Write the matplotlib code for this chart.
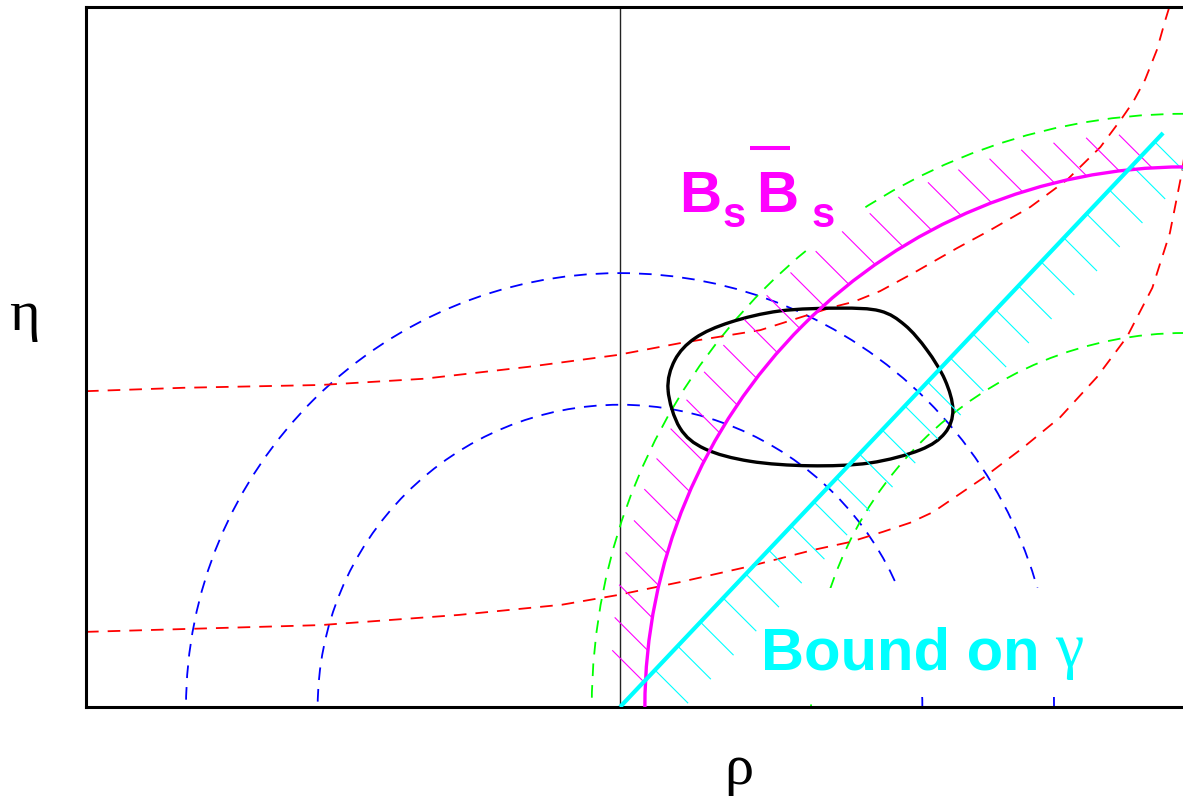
import numpy as np
import matplotlib.pyplot as plt
from matplotlib.patches import Arc, Rectangle, PathPatch
from matplotlib.path import Path
from matplotlib.collections import LineCollection

# rho-eta plane; (1, 0) is the right-hand apex of the triangle
RHO_LIM = (-0.945, 0.998)
ETA_LIM = (0.0, 1.239)

# |Vub/Vcb| band: circles around the origin
VUB_RADII = [0.535, 0.768]

# Bd mixing band (dashed) and Bs mixing bound (solid), circles around (1, 0)
MIX_CENTRE = (1.0, 0.0)
BD_RADII = [0.662, 1.050]
BS_RADIUS = 0.956

# epsilon_K band, lower and upper edges
EPSK_LO_RHO = [-0.945, -0.529, -0.285, -0.103, -0.005, 0.106, 0.225, 0.342,
               0.407, 0.465, 0.513, 0.554, 0.642, 0.712, 0.779, 0.844,
               0.897, 0.942, 0.973, 0.995, 1.005]
EPSK_LO_ETA = [0.133, 0.145, 0.163, 0.181, 0.198, 0.221, 0.248, 0.278,
               0.292, 0.310, 0.326, 0.345, 0.405, 0.458, 0.513, 0.584,
               0.655, 0.742, 0.839, 0.950, 1.021]
EPSK_HI_RHO = [-0.945, -0.773, -0.529, -0.347, -0.163, -0.005, 0.106, 0.248,
               0.377, 0.413, 0.460, 0.519, 0.596, 0.655, 0.726, 0.791,
               0.850, 0.888, 0.908, 0.929, 0.950, 0.965, 0.973]
EPSK_HI_ETA = [0.559, 0.565, 0.570, 0.581, 0.602, 0.623, 0.644, 0.667,
               0.708, 0.717, 0.736, 0.768, 0.812, 0.844, 0.885, 0.933,
               0.991, 1.042, 1.071, 1.110, 1.163, 1.216, 1.242]

# bound on gamma: ray from the origin
GAMMA_END = (0.961, 1.016)

# allowed region (closed contour)
FIT_RHO = [0.085, 0.097, 0.133, 0.195, 0.283, 0.389, 0.460, 0.504, 0.543,
           0.575, 0.589, 0.575, 0.531, 0.442, 0.336, 0.230, 0.150, 0.106]
FIT_ETA = [0.561, 0.614, 0.653, 0.681, 0.701, 0.706, 0.701, 0.676, 0.632,
           0.579, 0.526, 0.485, 0.455, 0.432, 0.427, 0.435, 0.457, 0.494]

MAGENTA = "#ff00ff"
CYAN = "#00ffff"
DASH = (0, (7, 5))


def closed_curve(xs, ys):
    """Smooth closed Bezier path through the given points."""
    pts = np.column_stack([xs, ys])
    n = len(pts)
    verts, codes = [pts[0]], [Path.MOVETO]
    for i in range(n):
        p0, p1, p2, p3 = pts[i - 1], pts[i], pts[(i + 1) % n], pts[(i + 2) % n]
        verts += [p1 + (p2 - p0) / 6, p2 - (p3 - p1) / 6, p2]
        codes += [Path.CURVE4] * 3
    return Path(verts, codes)


def ticks(x, y, direction, length):
    d = np.asarray(direction, float)
    d = d / np.hypot(*d) * length
    return [[(a, b), (a + d[0], b + d[1])] for a, b in zip(x, y)]


fig = plt.figure(figsize=(11.83, 7.99), dpi=100)
ax = fig.add_axes([86 / 1183, 92 / 799, 1098 / 1183, 700 / 799])
ax.set_xlim(*RHO_LIM)
ax.set_ylim(*ETA_LIM)
ax.set_xticks([])
ax.set_yticks([])
for s in ax.spines.values():
    s.set_linewidth(2.2)
    s.set_color("black")

ax.axvline(0, color="#222222", lw=1.0, zorder=1)

# dashed constraint curves
for r in VUB_RADII:
    ax.add_patch(Arc((0, 0), 2 * r, 2 * r, theta1=0, theta2=180,
                     color="#0000ff", lw=1.3, ls=DASH, zorder=1.5))
for r in BD_RADII:
    ax.add_patch(Arc(MIX_CENTRE, 2 * r, 2 * r, theta1=90, theta2=180,
                     color="#00ff00", lw=1.3, ls=DASH, zorder=1.5))
ax.plot(EPSK_LO_RHO, EPSK_LO_ETA, color="#ff0000", lw=1.3, ls=DASH, zorder=1.5)
ax.plot(EPSK_HI_RHO, EPSK_HI_ETA, color="#ff0000", lw=1.3, ls=DASH, zorder=1.5)

# white backing under the two labels
ax.add_patch(Rectangle((0.092, 0.809), 0.333, 0.20, fc="white", ec="none", zorder=2))
ax.add_patch(Rectangle((0.274, 0.018), 0.567, 0.193, fc="white", ec="none", zorder=2))

# allowed region
ax.add_patch(PathPatch(closed_curve(FIT_RHO, FIT_ETA), fc="none",
                       ec="black", lw=2.4, zorder=3))

# Bs mixing bound with hatching on the excluded side
ax.add_patch(Arc(MIX_CENTRE, 2 * BS_RADIUS, 2 * BS_RADIUS, theta1=90, theta2=180,
                 color=MAGENTA, lw=2.4, zorder=3.5))
ang = np.radians(np.linspace(93.5, 177.5, 25))
hx = MIX_CENTRE[0] + BS_RADIUS * np.cos(ang)
hy = MIX_CENTRE[1] + BS_RADIUS * np.sin(ang)
ax.add_collection(LineCollection(ticks(hx, hy, (-1, 1), 0.083),
                                 colors=MAGENTA, linewidths=0.8, zorder=3))

# gamma bound with hatching
ax.plot([0, GAMMA_END[0]], [0, GAMMA_END[1]], color=CYAN, lw=3.0,
        solid_capstyle="butt", zorder=3.5)
L = np.hypot(*GAMMA_END)
s = np.linspace(0.09, 1.377, 23) / L
ax.add_collection(LineCollection(ticks(s * GAMMA_END[0], s * GAMMA_END[1], (1, -1), 0.083),
                                 colors=CYAN, linewidths=0.8, zorder=3))

# labels
bold = dict(family="Liberation Sans", weight="bold", color=MAGENTA, zorder=4)
ax.text(0.104, 0.876, "B", fontsize=42, va="baseline", **bold)
ax.text(0.182, 0.850, "s", fontsize=30, va="baseline", **bold)
ax.text(0.241, 0.876, "B", fontsize=42, va="baseline", **bold)
ax.plot([0.230, 0.301], [0.989, 0.989], color=MAGENTA, lw=2.9,
        solid_capstyle="butt", zorder=4)
ax.text(0.338, 0.850, "s", fontsize=30, va="baseline", **bold)

ax.text(0.250, 0.0655, "Bound on", fontsize=43, va="baseline",
        family="Liberation Sans", weight="bold", color=CYAN, zorder=4)
ax.text(0.795, 0.0985, "γ", fontsize=46, ha="center", va="center",
        family="Liberation Serif", color=CYAN, zorder=4)

fig.text(24 / 1183, 1 - 316 / 799, "η", fontsize=42, ha="center", va="center",
         family="Liberation Serif")
fig.text(739 / 1183, 1 - 770 / 799, "ρ", fontsize=42, ha="center", va="center",
         family="Liberation Serif")

fig.savefig("out.png", dpi=100)
